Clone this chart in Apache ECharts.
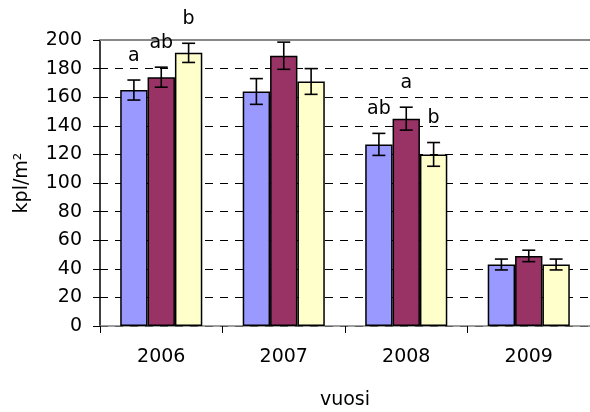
<!DOCTYPE html>
<html>
<head>
<meta charset="utf-8">
<script src="https://cdn.jsdelivr.net/npm/echarts@6/dist/echarts.min.js"></script>
<style>html,body{margin:0;padding:0;background:#fff;}#c{width:590px;height:412px;}</style>
</head>
<body>
<div id="c"></div>
<script>
const categories = ['2006', '2007', '2008', '2009'];
const valuesA = [165, 164, 127, 43];
const valuesB = [174, 189, 145, 49];
const valuesC = [191, 171, 120, 43];
const errorsA = [7, 9, 7.7, 3.8];
const errorsB = [7, 9.5, 8, 4];
const errorsC = [6.7, 9, 8.3, 3.8];
const lettersA = ['a', '', 'ab', ''];
const lettersB = ['ab', '', 'a', ''];
const lettersC = ['b', '', 'b', ''];
const yTicks = [0, 20, 40, 60, 80, 100, 120, 140, 160, 180, 200];

const colors = ['#9999FF', '#993366', '#FFFFCC'];
const FONT = 'DejaVu Sans';
const GAP = 0.33;

function errSeries(k, vals, errs, letters) {
  return {
    type: 'custom',
    z: 5,
    data: vals.map((v, i) => [i, v, errs[i]]),
    renderItem: function (params, api) {
      const ci = api.value(0), v = api.value(1), e = api.value(2);
      const catW = api.size([1, 0])[0];
      const barW = catW * (1 - GAP) / 3;
      const off = (k - 1) * barW;
      const top = api.coord([ci, v + e]);
      const bot = api.coord([ci, v - e]);
      const x = top[0] + off;
      const cap = 6.5;
      const st = { stroke: '#000', lineWidth: 1.6 };
      const children = [
        { type: 'line', shape: { x1: x, y1: top[1], x2: x, y2: bot[1] }, style: st },
        { type: 'line', shape: { x1: x - cap, y1: top[1], x2: x + cap, y2: top[1] }, style: st },
        { type: 'line', shape: { x1: x - cap, y1: bot[1], x2: x + cap, y2: bot[1] }, style: st }
      ];
      const letter = letters[params.dataIndex];
      if (letter) {
        children.push({
          type: 'text',
          style: { text: letter, x: x, y: top[1] - 24, align: 'center', verticalAlign: 'middle',
                   font: '19px "' + FONT + '"', fill: '#000' }
        });
      }
      return { type: 'group', children: children };
    }
  };
}

function barSeries(k, vals) {
  const s = {
    type: 'bar',
    data: vals,
    barGap: '0%',
    barCategoryGap: (GAP * 100) + '%',
    itemStyle: { color: colors[k], borderColor: '#000', borderWidth: 1.5 }
  };
  if (k === 0) {
    s.markLine = {
      silent: true, symbol: 'none', label: { show: false },
      lineStyle: { color: '#888888', type: 'solid', width: 2 },
      data: [{ yAxis: yTicks[yTicks.length - 1] }]
    };
  }
  return s;
}

const chart = echarts.init(document.getElementById('c'));
chart.setOption({
  animation: false,
  backgroundColor: '#fff',
  textStyle: { fontFamily: FONT },
  grid: { left: 100, right: 0, top: 40, bottom: 86, containLabel: false, outerBoundsMode: 'none' },
  xAxis: {
    type: 'category',
    data: categories,
    name: 'vuosi',
    nameLocation: 'middle',
    nameGap: 65,
    nameTextStyle: { fontSize: 19, color: '#000', fontFamily: FONT },
    axisLine: { lineStyle: { color: '#808080', width: 1.5 } },
    axisTick: { show: true, length: 7, lineStyle: { color: '#000' } },
    axisLabel: { fontSize: 19, color: '#000', margin: 22, fontFamily: FONT }
  },
  yAxis: {
    type: 'value',
    min: yTicks[0],
    max: yTicks[yTicks.length - 1],
    interval: 20,
    name: 'kpl/m²',
    nameLocation: 'middle',
    nameGap: 68,
    nameRotate: 90,
    nameTextStyle: { fontSize: 19, color: '#000', fontFamily: FONT },
    axisLine: { show: true, lineStyle: { color: '#000', width: 1.5 } },
    axisTick: { show: true, length: 7, lineStyle: { color: '#000' } },
    axisLabel: { fontSize: 19, color: '#000', margin: 18, fontFamily: FONT },
    splitLine: { show: true, lineStyle: { color: '#000', type: [8, 7], width: 1 } }
  },
  series: [
    barSeries(0, valuesA),
    barSeries(1, valuesB),
    barSeries(2, valuesC),
    errSeries(0, valuesA, errorsA, lettersA),
    errSeries(1, valuesB, errorsB, lettersB),
    errSeries(2, valuesC, errorsC, lettersC)
  ]
});
</script>
</body>
</html>
